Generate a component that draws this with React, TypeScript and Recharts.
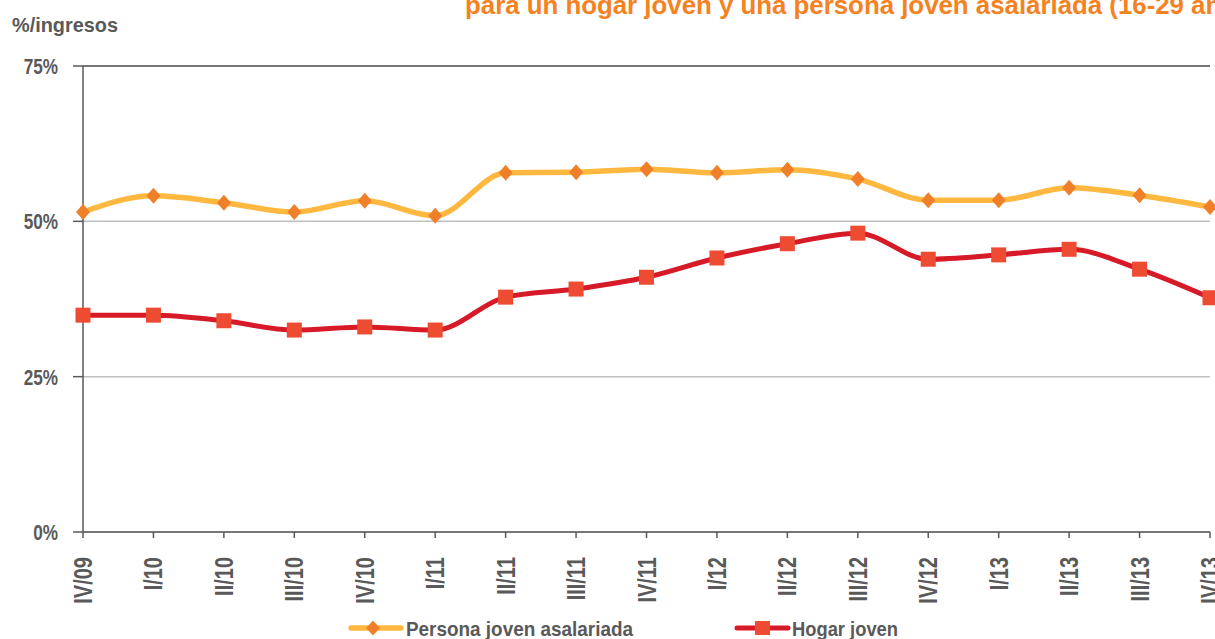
import React from "react";
import {
  LineChart,
  Line,
  XAxis,
  YAxis,
  CartesianGrid,
  ReferenceLine,
} from "recharts";

const categories = [
  "IV/09", "I/10", "II/10", "III/10", "IV/10", "I/11", "II/11", "III/11", "IV/11",
  "I/12", "II/12", "III/12", "IV/12", "I/13", "II/13", "III/13", "IV/13",
];
const personaJoven = [51.5, 54.1, 53.0, 51.5, 53.3, 50.9, 57.8, 57.9, 58.4, 57.8, 58.3, 56.8, 53.4, 53.4, 55.4, 54.2, 52.3];
const hogarJoven = [34.9, 34.9, 34.0, 32.5, 33.0, 32.5, 37.8, 39.1, 41.0, 44.1, 46.4, 48.1, 43.9, 44.6, 45.5, 42.3, 37.7];
const yTicks = [0, 25, 50, 75];
const seriesNames = ["Persona joven asalariada", "Hogar joven"];
const titleText = "para un hogar joven y una persona joven asalariada (16-29 años)";
const yLabel = "%/ingresos";

const data = categories.map((c, i) => ({ cat: c, persona: personaJoven[i], hogar: hogarJoven[i] }));

const FONT = "'Liberation Sans', Arial, sans-serif";
const GRAY = "#595959";
const YELLOW = "#FFB83F";
const ORANGE = "#F07F2A";
const RED = "#D71A28";
const RED_SQ = "#EE4B33";

const Diamond = (props: any) => {
  const { cx, cy } = props;
  if (cx == null || cy == null) return null;
  return <path d={`M${cx},${cy - 8} L${cx + 7},${cy} L${cx},${cy + 8} L${cx - 7},${cy} Z`} fill={ORANGE} />;
};
const Square = (props: any) => {
  const { cx, cy } = props;
  if (cx == null || cy == null) return null;
  return <rect x={cx - 7.5} y={cy - 7.5} width={15} height={15} fill={RED_SQ} />;
};

const XTick = (props: any) => {
  const { x, y, payload } = props;
  return (
    <text
      transform={`translate(${x},${y}) rotate(-90) scale(0.8,1)`}
      textAnchor="end"
      dy="0.36em"
      fill={GRAY}
      fontFamily={FONT}
      fontWeight="bold"
      fontSize={25}
    >
      {payload.value}
    </text>
  );
};

const YTick = (props: any) => {
  const { x, y, payload } = props;
  return (
    <text
      transform={`translate(${x},${y}) scale(0.78,1)`}
      textAnchor="end"
      dy="0.36em"
      fill={GRAY}
      fontFamily={FONT}
      fontWeight="bold"
      fontSize={22}
    >
      {`${payload.value}%`}
    </text>
  );
};

const LegendSvg = () => (
  <svg width={1215} height={24} style={{ position: "absolute", left: 0, top: 616 }}>
    <line x1={351} x2={401} y1={12} y2={12} stroke={YELLOW} strokeWidth={5.5} strokeLinecap="round" />
    <path d="M373,4.5 L380,12 L373,19.5 L366,12 Z" fill={ORANGE} />
    <text x={406} y={12} dy="0.36em" fill={GRAY} fontFamily={FONT} fontWeight="bold" fontSize={21} textLength={227} lengthAdjust="spacingAndGlyphs">
      {seriesNames[0]}
    </text>
    <line x1={737} x2={788} y1={12} y2={12} stroke={RED} strokeWidth={5} strokeLinecap="round" />
    <rect x={755} y={5} width={15} height={14} fill={RED_SQ} />
    <text x={792} y={12} dy="0.36em" fill={GRAY} fontFamily={FONT} fontWeight="bold" fontSize={21} textLength={106} lengthAdjust="spacingAndGlyphs">
      {seriesNames[1]}
    </text>
  </svg>
);

export default function App() {
  return (
    <div style={{ position: "absolute", left: 0, top: 0, width: 1215, height: 639, background: "#fff", overflow: "hidden" }}>
      <svg width={1215} height={60} style={{ position: "absolute", left: 0, top: 0 }}>
        <text x={465} y={13.5} fill="#F5821F" fontFamily={FONT} fontWeight="bold" fontSize={26} textLength={795} lengthAdjust="spacingAndGlyphs">
          {titleText}
        </text>
        <text x={12} y={24} dy="0.36em" fill={GRAY} fontFamily={FONT} fontWeight="bold" fontSize={21} textLength={106} lengthAdjust="spacingAndGlyphs">
          {yLabel}
        </text>
      </svg>
      <div style={{ position: "absolute", left: 0, top: 0 }}>
        <LineChart width={1215} height={639} data={data} margin={{ top: 66, right: 5, bottom: 0, left: 0 }}>
          <CartesianGrid vertical={false} stroke="#BFBFBF" strokeWidth={1.5} />
          <XAxis
            dataKey="cat"
            interval={0}
            height={107}
            tick={<XTick />}
            tickSize={6}
            tickMargin={19}
            stroke={GRAY}
            tickLine={{ stroke: GRAY, strokeWidth: 1.5 }}
            axisLine={{ stroke: GRAY, strokeWidth: 1.5 }}
          />
          <YAxis
            domain={[0, 75]}
            ticks={yTicks}
            width={83}
            tick={<YTick />}
            tickSize={10}
            tickMargin={15}
            stroke={GRAY}
            tickLine={{ stroke: GRAY, strokeWidth: 1.5 }}
            axisLine={{ stroke: GRAY, strokeWidth: 1.5 }}
          />
          <ReferenceLine y={75} stroke={GRAY} strokeWidth={1.5} />
          <Line
            type="monotone"
            dataKey="persona"
            stroke={YELLOW}
            strokeWidth={5.5}
            dot={<Diamond />}
            activeDot={false}
            isAnimationActive={false}
          />
          <Line
            type="monotone"
            dataKey="hogar"
            stroke={RED}
            strokeWidth={5}
            dot={<Square />}
            activeDot={false}
            isAnimationActive={false}
          />
        </LineChart>
      </div>
      <LegendSvg />
    </div>
  );
}
